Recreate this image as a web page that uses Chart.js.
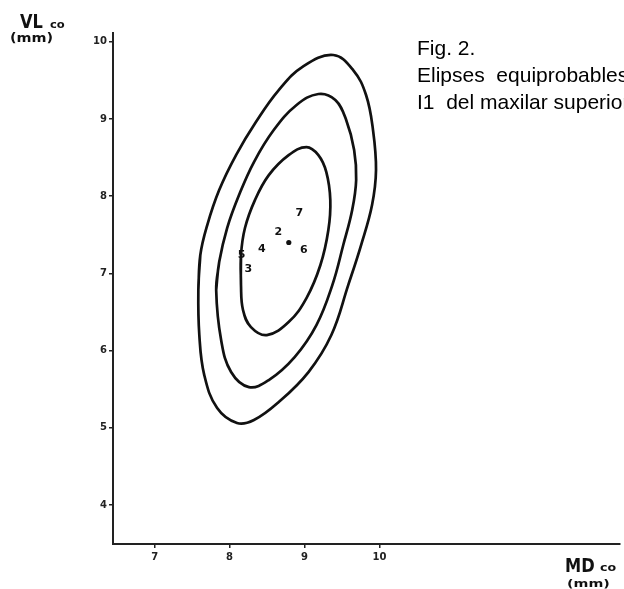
<!DOCTYPE html>
<html>
<head>
<meta charset="utf-8">
<script src="https://cdn.jsdelivr.net/npm/chart.js@4/dist/chart.umd.min.js"></script>
<style>
  body { margin: 0; background: #fff; }
  #chart { display: block; }
</style>
</head>
<body>
<canvas id="chart" width="624" height="589"></canvas>
<script>
// Ticks
const xTicks = [7, 8, 9, 10];
const yTicks = [4, 5, 6, 7, 8, 9, 10];

// Ellipse contours (MD, VL), clockwise from the left side
const outerX = [7.583, 7.609, 7.702, 7.861, 8.086, 8.351, 8.656, 8.987, 9.384, 9.649, 9.821, 9.914, 9.954, 9.901, 9.755, 9.583, 9.358, 9.053, 8.656, 8.325, 8.099, 7.834, 7.662, 7.596];
const outerY = [6.784, 7.237, 7.626, 8.079, 8.532, 8.960, 9.374, 9.685, 9.828, 9.633, 9.310, 8.856, 8.338, 7.885, 7.367, 6.848, 6.201, 5.722, 5.333, 5.100, 5.061, 5.255, 5.683, 6.201];

const middleX = [7.821, 7.861, 7.967, 8.126, 8.325, 8.589, 8.894, 9.185, 9.411, 9.556, 9.662, 9.689, 9.636, 9.517, 9.371, 9.159, 8.868, 8.523, 8.258, 8.020, 7.887];
const middleY = [6.784, 7.146, 7.587, 8.014, 8.442, 8.856, 9.180, 9.323, 9.245, 8.986, 8.597, 8.209, 7.820, 7.367, 6.848, 6.330, 5.916, 5.618, 5.527, 5.722, 6.136];

const innerX = [8.152, 8.152, 8.205, 8.338, 8.523, 8.788, 9.026, 9.185, 9.291, 9.344, 9.318, 9.212, 9.026, 8.788, 8.497, 8.285, 8.179];
const innerY = [6.848, 7.237, 7.587, 7.949, 8.273, 8.532, 8.636, 8.532, 8.312, 7.949, 7.561, 7.108, 6.680, 6.369, 6.201, 6.304, 6.525];

// Numbered samples
const sampleLabels = ['7', '2', '6', '4', '5', '3'];
const sampleX = [8.93, 8.65, 8.99, 8.43, 8.16, 8.25];
const sampleY = [7.78, 7.53, 7.30, 7.31, 7.23, 7.06];

// Mean point
const meanX = [8.79];
const meanY = [7.40];

// close the loop: go round once more through the first two points
function loopPoints(xs, ys) {
    const pts = xs.map((x, i) => ({ x: x, y: ys[i] }));
    return pts.concat([pts[0], pts[1]]);
}

function contour(xs, ys) {
    return {
        data: loopPoints(xs, ys),
        showLine: true,
        borderColor: '#111',
        borderWidth: 2.7,
        tension: 0.4,
        pointRadius: 0,
        fill: false
    };
}

// text squeezed/stretched horizontally
function stretchText(ctx, text, x, y, sx) {
    ctx.save();
    ctx.translate(x, y);
    ctx.scale(sx, 1);
    ctx.fillText(text, 0, 0);
    ctx.restore();
}

// Draw numbers, axis titles and caption
const textPlugin = {
    id: 'texts',
    afterDatasetsDraw(chart) {
        const ctx = chart.ctx;
        const xs = chart.scales.x;
        const ys = chart.scales.y;
        ctx.save();
        ctx.fillStyle = '#111';
        ctx.textAlign = 'center';
        ctx.textBaseline = 'middle';
        ctx.font = 'bold 11px "DejaVu Sans"';
        sampleLabels.forEach((lab, i) => {
            ctx.fillText(lab, xs.getPixelForValue(sampleX[i]), ys.getPixelForValue(sampleY[i]));
        });

        ctx.textAlign = 'left';
        ctx.textBaseline = 'alphabetic';
        // y axis title
        ctx.font = 'bold 20px "DejaVu Sans Condensed"';
        stretchText(ctx, 'VL', 20, 28, 0.9);
        ctx.font = 'bold 11px "DejaVu Sans"';
        stretchText(ctx, 'co', 50, 28, 1.05);
        ctx.font = 'bold 12px "DejaVu Sans"';
        stretchText(ctx, '(mm)', 10, 42, 1.2);
        // x axis title
        ctx.font = 'bold 19px "DejaVu Sans Condensed"';
        stretchText(ctx, 'MD', 565, 572, 0.95);
        ctx.font = 'bold 11px "DejaVu Sans"';
        stretchText(ctx, 'co', 600, 571, 1.15);
        ctx.font = 'bold 11px "DejaVu Sans"';
        stretchText(ctx, '(mm)', 567, 587, 1.3);

        // caption
        ctx.fillStyle = '#000';
        ctx.font = '21px "Liberation Sans"';
        ctx.fillText('Fig. 2.', 417, 55);
        ctx.fillText('Elipses  equiprobables', 417, 82);
        ctx.fillText('I1  del maxilar superior', 417, 109);
        ctx.restore();
    }
};

const ctx = document.getElementById('chart').getContext('2d');
new Chart(ctx, {
    type: 'scatter',
    data: {
        datasets: [
            contour(outerX, outerY),
            contour(middleX, middleY),
            contour(innerX, innerY),
            {
                data: meanX.map((x, i) => ({ x: x, y: meanY[i] })),
                pointRadius: 2.6,
                pointBackgroundColor: '#111',
                pointBorderWidth: 0
            }
        ]
    },
    options: {
        responsive: false,
        animation: false,
        events: [],
        layout: { padding: { top: 33, right: 0, left: 0, bottom: 0 } },
        plugins: {
            legend: { display: false },
            tooltip: { enabled: false }
        },
        scales: {
            x: {
                type: 'linear',
                min: 6.444,
                max: 13.21,
                afterBuildTicks: (scale) => { scale.ticks = xTicks.map(v => ({ value: v })); },
                afterFit: (scale) => { scale.height = 45; },
                border: { display: true, color: '#222', width: 2 },
                grid: { display: true, drawOnChartArea: false, drawTicks: true, tickLength: 4, color: '#222', lineWidth: 1.5 },
                ticks: {
                    color: '#222',
                    padding: 3,
                    maxRotation: 0,
                    font: { family: 'DejaVu Sans', size: 10, weight: 'bold' }
                }
            },
            y: {
                type: 'linear',
                min: 3.495,
                max: 10.113,
                afterBuildTicks: (scale) => { scale.ticks = yTicks.map(v => ({ value: v })); },
                afterFit: (scale) => { scale.width = 113; },
                border: { display: true, color: '#222', width: 2 },
                grid: { display: true, drawOnChartArea: false, drawTicks: true, tickLength: 4, color: '#222', lineWidth: 1.5 },
                ticks: {
                    color: '#222',
                    padding: 2,
                    font: { family: 'DejaVu Sans', size: 10, weight: 'bold' }
                }
            }
        }
    },
    plugins: [textPlugin]
});
</script>
</body>
</html>
